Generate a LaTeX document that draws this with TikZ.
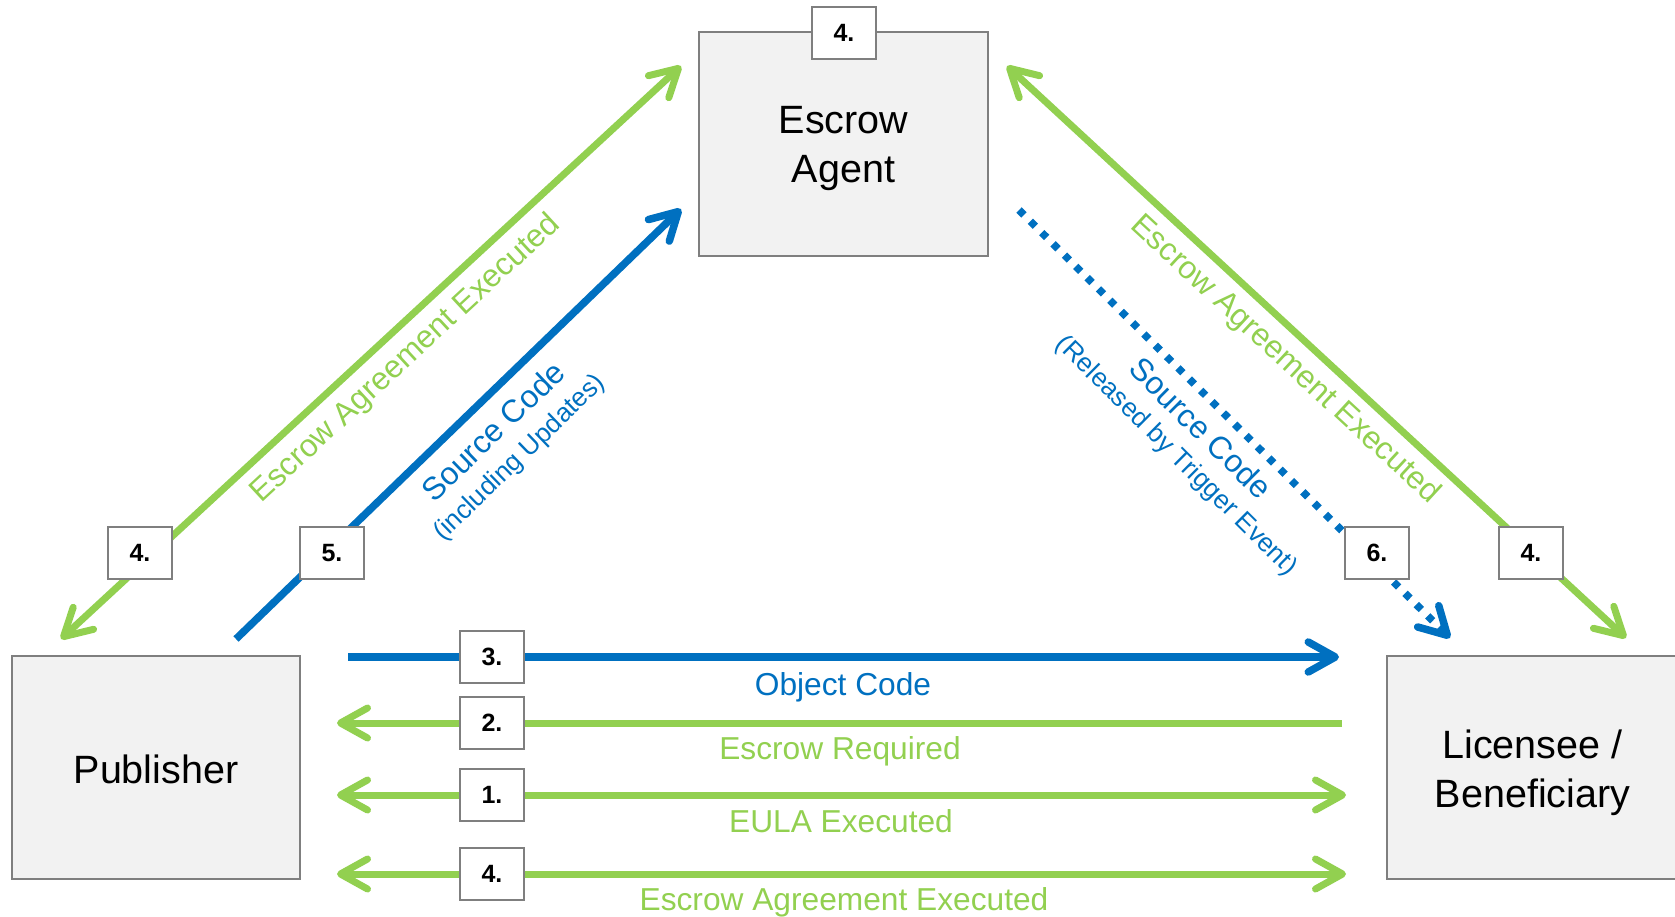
\documentclass[tikz,border=0pt]{standalone}
\usepackage{fontspec}
\setmainfont{Liberation Sans}
\usetikzlibrary{arrows.meta}
\definecolor{eGreen}{RGB}{146,208,80}
\definecolor{eBlue}{RGB}{0,112,192}
\definecolor{boxFill}{RGB}{242,242,242}
\definecolor{boxLine}{RGB}{127,127,127}
\begin{document}
\begin{tikzpicture}[x=1pt,y=-1pt,
  >={Straight Barb[length=27pt,width=30pt,round]},
  party/.style={draw=boxLine, fill=boxFill, line width=2.5pt, inner sep=0pt},
  partytext/.style={align=center, font=\fontsize{39.5}{49}\selectfont, inner sep=0pt},
  badge/.style={draw=boxLine, fill=white, line width=2pt, minimum width=64pt, minimum height=52pt, inner sep=0pt, font=\fontsize{25}{30}\selectfont\bfseries},
  gline/.style={draw=eGreen, line width=7pt},
  bline/.style={draw=eBlue, line width=7.5pt},
  glabel/.style={text=eGreen, font=\fontsize{31.7}{36}\selectfont, inner sep=0pt},
  blabel/.style={text=eBlue, font=\fontsize{31.7}{36}\selectfont, inner sep=0pt},
  bsmall/.style={text=eBlue, font=\fontsize{26.3}{30}\selectfont, inner sep=0pt},
]
\useasboundingbox (0,0) rectangle (1675,917);
\clip (0,0) rectangle (1675,917);

% parties
\node[party, minimum width=289pt, minimum height=224pt] (escrow) at (843.5,144) {};
\node[party, minimum width=288pt, minimum height=223pt] (pub) at (156,767.5) {};
\node[party, minimum width=293pt, minimum height=223pt] (lic) at (1533.5,767.5) {};
\node[partytext] (escrowT) at ([yshift=-5pt]escrow.center) {Escrow\\Agent};
\node[partytext] (pubT) at ([yshift=-2pt]pub.center) {Publisher};
\node[partytext] (licT) at ([yshift=-5pt,xshift=-1pt]lic.center) {Licensee /\\Beneficiary};

% connector ends
\coordinate (gLa) at (61,639);   \coordinate (gLb) at (681,66);
\coordinate (bLa) at (236,639);  \coordinate (bLb) at (681,209);
\coordinate (dRa) at (1019,210); \coordinate (dRb) at (1450,638);
\coordinate (gRa) at (1007,66);  \coordinate (gRb) at (1626,638);
\coordinate (h3a) at (348,657);  \coordinate (h3b) at (1339,657);
\coordinate (h2a) at (1342,723); \coordinate (h2b) at (337,723);
\coordinate (h1a) at (337,795);  \coordinate (h1b) at (1346,795);
\coordinate (h4a) at (337,874);  \coordinate (h4b) at (1346,874);

% connectors
\draw[gline,<->] (gLa) -- (gLb);
\draw[bline,->] (bLa) -- (bLb);
\draw[bline,->,dash pattern=on 7pt off 9pt] (dRa) -- (dRb);
\draw[gline,<->] (gRa) -- (gRb);
\draw[bline,->] (h3a) -- (h3b);
\draw[gline,->] (h2a) -- (h2b);
\draw[gline,<->] (h1a) -- (h1b);
\draw[gline,<->] (h4a) -- (h4b);

% labels
\node[glabel, rotate=42.75] (lblGL) at (406,359) {Escrow Agreement Executed};
\node[blabel, rotate=44] (lblBL) at (493,431) {Source Code};
\node[bsmall, rotate=44] (lblBL2) at (520,458) {(including Updates)};
\node[blabel, rotate=-44.8] (lblDR) at (1201,428) {Source Code};
\node[bsmall, rotate=-44.8] (lblDR2) at (1176,456) {(Released by Trigger Event)};
\node[glabel, rotate=-42.7] (lblGR) at (1285,360) {Escrow Agreement Executed};
\node[blabel, anchor=base] (lblOC) at (843,695) {Object Code};
\node[glabel, anchor=base] (lblER) at (840,759) {Escrow Required};
\node[glabel, anchor=base] (lblEU) at (841,832) {EULA Executed};
\node[glabel, anchor=base] (lblEA) at (844,910) {Escrow Agreement Executed};

% step badges
\node[badge] (n4top) at (844,33) {4.};
\node[badge] (n4l) at (140,553) {4.};
\node[badge] (n5) at (332,553) {5.};
\node[badge] (n6) at (1377,553) {6.};
\node[badge] (n4r) at (1531,553) {4.};
\node[badge] (n3) at (492,657) {3.};
\node[badge] (n2) at (492,722.5) {2.};
\node[badge] (n1) at (492,795) {1.};
\node[badge] (n4b) at (492,873.5) {4.};
\end{tikzpicture}
\end{document}
